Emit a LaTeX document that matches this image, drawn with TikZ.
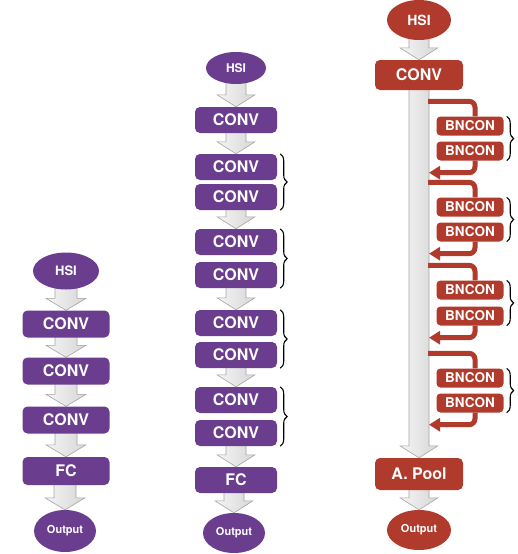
\documentclass[tikz,border=0pt]{standalone}
\usepackage{fontspec}
\setsansfont{TeX Gyre Heros}
\usetikzlibrary{shapes.geometric, arrows.meta, positioning, calc, backgrounds, decorations.pathreplacing}
\definecolor{cnnpurple}{HTML}{6B3D8F}
\definecolor{resred}{HTML}{B03A2C}
\definecolor{arrowgray}{HTML}{A4A4A4}

\tikzset{
    layerbox/.style={rectangle, rounded corners=5pt, text=white, inner sep=0pt,
        font=\sffamily\bfseries\fontsize{16}{16}\selectfont},
    purplebox/.style={layerbox, fill=cnnpurple, minimum width=#1, minimum height=27pt},
    redbox/.style={layerbox, fill=resred, minimum width=#1, minimum height=30pt},
    bnbox/.style={layerbox, fill=resred, minimum width=67pt, minimum height=19pt,
        rounded corners=4pt, font=\sffamily\bfseries\fontsize{13.5}{13.5}\selectfont},
    oval/.style={ellipse, text=white, inner sep=0pt, font=\sffamily\bfseries},
    flowarrow/.style={draw=arrowgray, line width=0.6pt, left color=gray!8, right color=gray!32},
    skiplink/.style={draw=resred, line width=5pt, rounded corners=6pt},
    groupbrace/.style={decorate, decoration={brace, amplitude=7pt}, line width=1.1pt}
}

% grey block arrow from node #1 to node #2, half shaft width #3
\newcommand{\blockarrow}[3]{%
    \draw[flowarrow] let \p1=(#1.center), \p2=(#2.north) in
        (\x2-#3pt,\y1) -- (\x2-#3pt,\y2+12pt) -- (\x2-#3pt-9pt,\y2+12pt) -- (\x2,\y2)
        -- (\x2+#3pt+9pt,\y2+12pt) -- (\x2+#3pt,\y2+12pt) -- (\x2+#3pt,\y1) -- cycle;}

\begin{document}
\begin{tikzpicture}[x=1pt, y=-1pt]
    \useasboundingbox (0,0) rectangle (518,554);

    % Plain CNN
    \node[oval, fill=cnnpurple, minimum width=66pt, minimum height=37pt,
        font=\sffamily\bfseries\fontsize{13}{13}\selectfont] (a-hsi) at (66,271) {HSI};
    \node[purplebox=87pt] (a-conv1) at (66,324) {CONV};
    \node[purplebox=87pt] (a-conv2) at (66,371) {CONV};
    \node[purplebox=87pt] (a-conv3) at (66,420) {CONV};
    \node[purplebox=87pt, minimum height=28pt] (a-fc) at (66,471) {FC};
    \node[oval, fill=cnnpurple, minimum width=62pt, minimum height=42pt,
        font=\sffamily\bfseries\fontsize{11}{11}\selectfont] (a-out) at (65,531) {Output};

    % Deeper CNN
    \node[oval, fill=cnnpurple, minimum width=60pt, minimum height=32pt,
        font=\sffamily\bfseries\fontsize{12}{12}\selectfont] (b-hsi) at (236,68) {HSI};
    \node[purplebox=82pt, minimum height=26pt] (b-conv1) at (236,120) {CONV};
    \node[purplebox=82pt, minimum height=26pt] (b-conv2) at (236,167) {CONV};
    \node[purplebox=82pt, minimum height=26pt] (b-conv3) at (236,197) {CONV};
    \node[purplebox=82pt, minimum height=26pt] (b-conv4) at (236,242) {CONV};
    \node[purplebox=82pt, minimum height=26pt] (b-conv5) at (236,275) {CONV};
    \node[purplebox=82pt, minimum height=26pt] (b-conv6) at (236,323) {CONV};
    \node[purplebox=82pt, minimum height=26pt] (b-conv7) at (236,355) {CONV};
    \node[purplebox=82pt, minimum height=26pt] (b-conv8) at (236,400) {CONV};
    \node[purplebox=82pt, minimum height=26pt] (b-conv9) at (236,433) {CONV};
    \node[purplebox=82pt, minimum height=26pt] (b-fc) at (236,480) {FC};
    \node[oval, fill=cnnpurple, minimum width=62pt, minimum height=40pt,
        font=\sffamily\bfseries\fontsize{11}{11}\selectfont] (b-out) at (234,533) {Output};

    % Residual network
    \node[oval, fill=resred, minimum width=64pt, minimum height=40pt,
        font=\sffamily\bfseries\fontsize{14}{14}\selectfont] (c-hsi) at (419,20) {HSI};
    \node[redbox=88pt] (c-conv) at (419,75) {CONV};
    \node[bnbox] (c-bn1a) at (470,126) {BNCON};
    \node[bnbox] (c-bn1b) at (470,151) {BNCON};
    \node[bnbox] (c-bn2a) at (470,207) {BNCON};
    \node[bnbox] (c-bn2b) at (470,232) {BNCON};
    \node[bnbox] (c-bn3a) at (470,290) {BNCON};
    \node[bnbox] (c-bn3b) at (470,316) {BNCON};
    \node[bnbox] (c-bn4a) at (470,378) {BNCON};
    \node[bnbox] (c-bn4b) at (470,403) {BNCON};
    \node[redbox=88pt, minimum height=32pt] (c-pool) at (419,474) {A. Pool};
    \node[oval, fill=resred, minimum width=64pt, minimum height=40pt,
        font=\sffamily\bfseries\fontsize{11}{11}\selectfont] (c-out) at (419,530) {Output};

    % Grey flow arrows behind the boxes
    \begin{scope}[on background layer]
        \blockarrow{a-hsi}{a-conv1}{11}
        \blockarrow{a-conv1}{a-conv2}{11}
        \blockarrow{a-conv2}{a-conv3}{11}
        \blockarrow{a-conv3}{a-fc}{11}
        \blockarrow{a-fc}{a-out}{11}

        \blockarrow{b-hsi}{b-conv1}{10}
        \blockarrow{b-conv1}{b-conv2}{10}
        \blockarrow{b-conv3}{b-conv4}{10}
        \blockarrow{b-conv5}{b-conv6}{10}
        \blockarrow{b-conv7}{b-conv8}{10}
        \blockarrow{b-conv9}{b-fc}{10}
        \blockarrow{b-fc}{b-out}{10}

        \blockarrow{c-hsi}{c-conv}{10}
        \blockarrow{c-conv}{c-pool}{10}
        \blockarrow{c-pool}{c-out}{10}
    \end{scope}

    % Skip connections off the trunk
    \coordinate (trunk) at ([xshift=9pt]c-conv.south);
    \foreach \g in {1,2,3,4} {
        \coordinate (in\g) at ([yshift=15pt]c-bn\g a.north);
        \coordinate (out\g) at ([yshift=-12pt]c-bn\g b.south);
        \draw[skiplink] (trunk |- in\g) -| ([xshift=5pt]c-bn\g a.north);
        \draw[skiplink, -{Triangle[width=13pt,length=11pt]}]
            ([xshift=5pt]c-bn\g b.south) |- ([xshift=1pt]trunk |- out\g);
    }

    % Braces
    \draw[groupbrace] ([xshift=3pt]b-conv2.north east) -- ([xshift=3pt]b-conv3.south east);
    \draw[groupbrace] ([xshift=3pt]b-conv4.north east) -- ([xshift=3pt]b-conv5.south east);
    \draw[groupbrace] ([xshift=3pt]b-conv6.north east) -- ([xshift=3pt]b-conv7.south east);
    \draw[groupbrace] ([xshift=3pt]b-conv8.north east) -- ([xshift=3pt]b-conv9.south east);
    \foreach \g in {1,2,3,4}
        \draw[groupbrace] ([xshift=3pt]c-bn\g a.north east) -- ([xshift=3pt]c-bn\g b.south east);

\end{tikzpicture}
\end{document}
